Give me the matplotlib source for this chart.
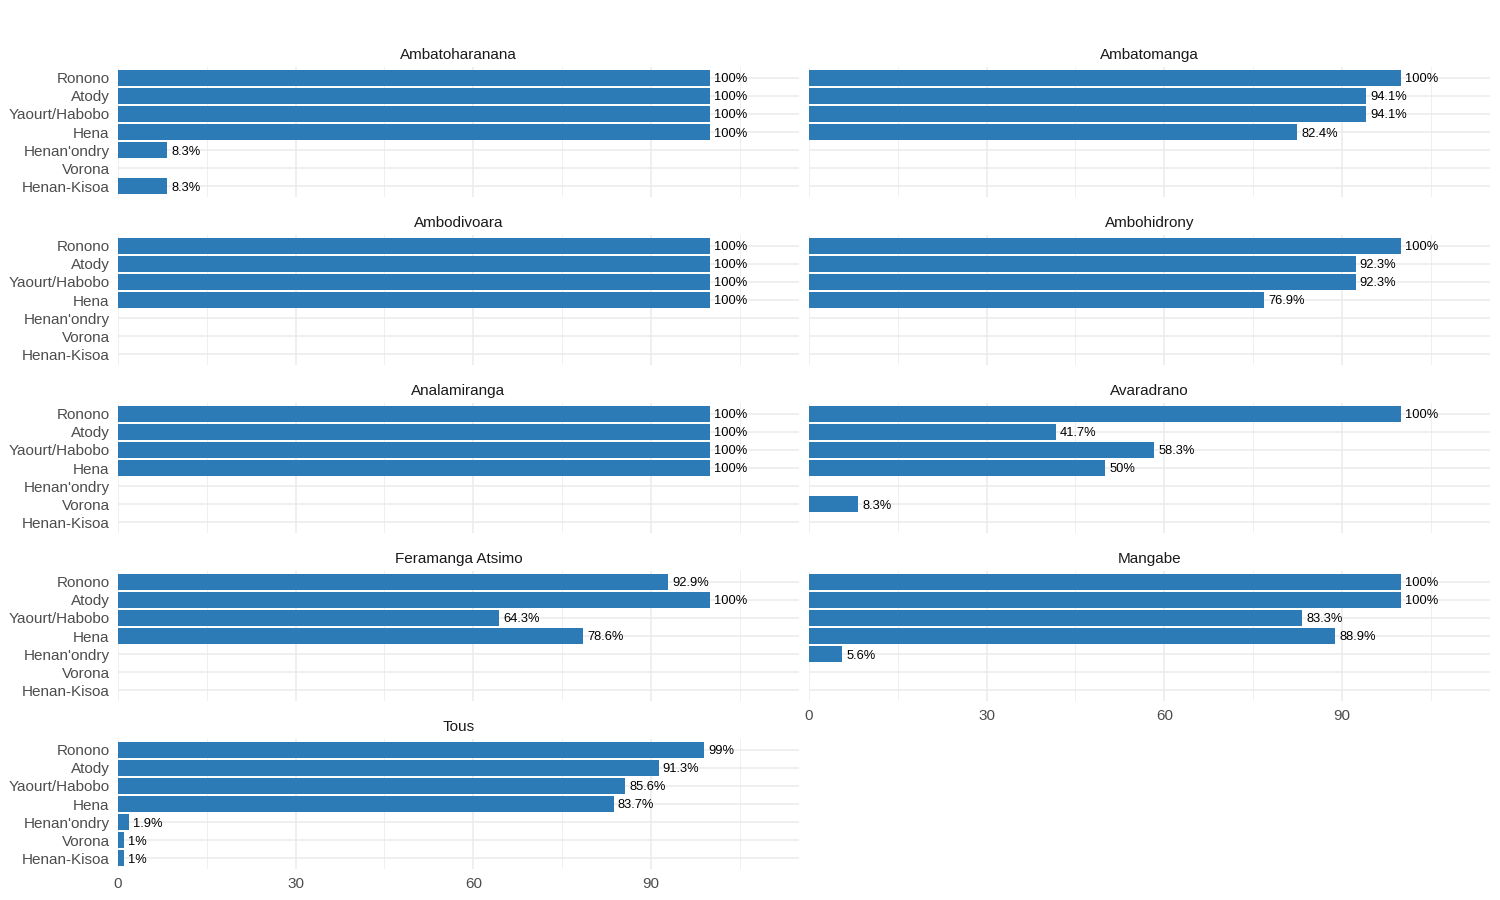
import numpy as np
import matplotlib
matplotlib.use('Agg')
import matplotlib.pyplot as plt

plt.rcParams['font.family'] = ['Liberation Sans', 'DejaVu Sans']

# categories, top to bottom
categories = ['Ronono', 'Atody', 'Yaourt/Habobo', 'Hena', "Henan'ondry", 'Vorona', 'Henan-Kisoa']

# percentage per panel (nan = no bar)
nan = np.nan
Ambatoharanana = [100, 100, 100, 100, 8.3, nan, 8.3]
Ambatomanga = [100, 94.1, 94.1, 82.4, nan, nan, nan]
Ambodivoara = [100, 100, 100, 100, nan, nan, nan]
Ambohidrony = [100, 92.3, 92.3, 76.9, nan, nan, nan]
Analamiranga = [100, 100, 100, 100, nan, nan, nan]
Avaradrano = [100, 41.7, 58.3, 50, nan, 8.3, nan]
Feramanga_Atsimo = [92.9, 100, 64.3, 78.6, nan, nan, nan]
Mangabe = [100, 100, 83.3, 88.9, 5.6, nan, nan]
Tous = [99, 91.3, 85.6, 83.7, 1.9, 1, 1]

panels = [('Ambatoharanana', Ambatoharanana), ('Ambatomanga', Ambatomanga),
          ('Ambodivoara', Ambodivoara), ('Ambohidrony', Ambohidrony),
          ('Analamiranga', Analamiranga), ('Avaradrano', Avaradrano),
          ('Feramanga Atsimo', Feramanga_Atsimo), ('Mangabe', Mangabe),
          ('Tous', Tous)]

major_ticks = [0, 30, 60, 90]
minor_ticks = [15, 45, 75, 105]

bar_col = '#2C7BB6'
grid_col = '#EBEBEB'

fig = plt.figure(figsize=(15, 9), dpi=100)
W, H = 1500.0, 900.0
col_x = [118, 809]
pw = 681
ph = 130
ypos = np.arange(len(categories))

for i, (name, vals) in enumerate(panels):
    r, c = divmod(i, 2)
    top = 67 + 168 * r
    ax = fig.add_axes([col_x[c] / W, 1 - (top + ph) / H, pw / W, ph / H])
    vals = np.array(vals, dtype=float)
    ax.barh(ypos, np.nan_to_num(vals), height=0.9, color=bar_col, zorder=3)
    for y, v in zip(ypos, vals):
        if np.isnan(v):
            continue
        ax.annotate(f'{v:g}%', (v, y), xytext=(3, 0), textcoords='offset points',
                    ha='left', va='center_baseline', fontsize=9.3, color='black', zorder=4)
    ax.set_xlim(0, 115)
    ax.set_ylim(len(categories) - 0.4, -0.6)
    ax.set_yticks(ypos)
    ax.set_yticklabels(categories if c == 0 else [])
    ax.set_xticks(major_ticks)
    ax.set_xticks(minor_ticks, minor=True)
    ax.grid(True, which='major', color=grid_col, lw=1.1, zorder=0)
    ax.grid(True, which='minor', axis='x', color=grid_col, lw=0.55, zorder=0)
    ax.tick_params(which='both', length=0, labelsize=11, labelcolor='#4D4D4D')
    ax.tick_params(axis='y', pad=6)
    ax.tick_params(axis='x', pad=6)
    for s in ax.spines.values():
        s.set_visible(False)
    # x labels only on the lowest panel of each column
    if not (name == 'Tous' or name == 'Mangabe'):
        ax.set_xticklabels([])
    ax.set_title(name, fontsize=11, color='#1A1A1A', pad=6)

fig.savefig('out.png', dpi=100, facecolor='white')
